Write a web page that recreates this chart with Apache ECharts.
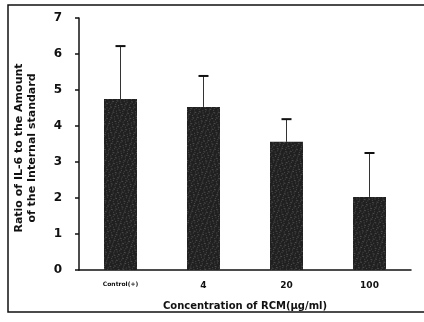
<!DOCTYPE html>
<html>
<head>
<meta charset="utf-8">
<script src="https://cdn.jsdelivr.net/npm/echarts@6/dist/echarts.min.js"></script>
<style>
  html, body { margin: 0; padding: 0; background: #fff; }
  #chart { width: 424px; height: 322px; }
</style>
</head>
<body>
<div id="chart"></div>
<script>
// data
var categories = ['Control(+)', '4', '20', '100'];
var means = [4.75, 4.53, 3.56, 2.03];
var errors = [1.47, 0.86, 0.63, 1.22];
var yTicks = [0, 1, 2, 3, 4, 5, 6, 7];

var font = '"DejaVu Sans", sans-serif';
var chart = echarts.init(document.getElementById('chart'));

chart.setOption({
    animation: false,
    backgroundColor: '#fff',
    grid: { left: 79, right: 13, top: 18, bottom: 52 },
    graphic: [
        {
            type: 'rect',
            shape: { x: 8, y: 5, width: 420, height: 307 },
            style: { fill: 'none', stroke: '#111', lineWidth: 1.5 }
        },
        {
            type: 'text',
            x: 26, y: 148, rotation: Math.PI / 2,
            style: {
                text: 'Ratio of IL-6 to the Amount\nof the Internal standard',
                font: 'bold 11px ' + font,
                fill: '#111', align: 'center', verticalAlign: 'middle', lineHeight: 13
            }
        }
    ],
    xAxis: {
        type: 'category',
        data: categories,
        name: 'Concentration of RCM(\u03bcg/ml)',
        nameLocation: 'middle',
        nameGap: 31,
        nameTextStyle: { fontFamily: font, fontWeight: 'bold', fontSize: 10, color: '#111' },
        axisLine: { lineStyle: { color: '#111', width: 1.5 } },
        axisTick: { show: false },
        axisLabel: {
            interval: 0,
            fontFamily: font, fontWeight: 'bold', fontSize: 9, color: '#111', margin: 11,
            formatter: function (v) { return v === 'Control(+)' ? '{s|' + v + '}' : v; },
            rich: { s: { fontFamily: font, fontWeight: 'bold', fontSize: 6, color: '#111' } }
        }
    },
    yAxis: {
        type: 'value',
        min: 0, max: 7, interval: 1,
        axisLine: { show: true, lineStyle: { color: '#111', width: 1.5 } },
        axisTick: { show: true, length: 4, lineStyle: { color: '#111', width: 1.5 } },
        splitLine: { show: false },
        axisLabel: {
            fontFamily: font, fontWeight: 'bold', fontSize: 12, color: '#111', margin: 17,
            formatter: function (v) { return yTicks.indexOf(v) >= 0 ? String(v) : ''; }
        }
    },
    series: [
        {
            type: 'bar',
            data: means,
            barWidth: 33,
            itemStyle: {
                color: '#202020',
                decal: {
                    symbol: 'rect',
                    symbolSize: 0.7,
                    color: 'rgba(255,255,255,0.55)',
                    dashArrayX: [[1, 3, 1, 2], [2, 2, 1, 4], [1, 4, 2, 2]],
                    dashArrayY: [1, 1],
                    rotation: 0.35
                }
            }
        },
        {
            type: 'custom',
            data: means.map(function (m, i) { return [i, m, m + errors[i]]; }),
            renderItem: function (params, api) {
                var base = api.coord([api.value(0), api.value(1)]);
                var top = api.coord([api.value(0), api.value(2)]);
                var half = 5;
                return {
                    type: 'group',
                    children: [
                        {
                            type: 'line',
                            shape: { x1: base[0], y1: base[1], x2: top[0], y2: top[1] },
                            style: { stroke: '#333', lineWidth: 1 }
                        },
                        {
                            type: 'line',
                            shape: { x1: top[0] - half, y1: top[1], x2: top[0] + half, y2: top[1] },
                            style: { stroke: '#111', lineWidth: 2 }
                        }
                    ]
                };
            },
            z: 3
        }
    ]
});
</script>
</body>
</html>
